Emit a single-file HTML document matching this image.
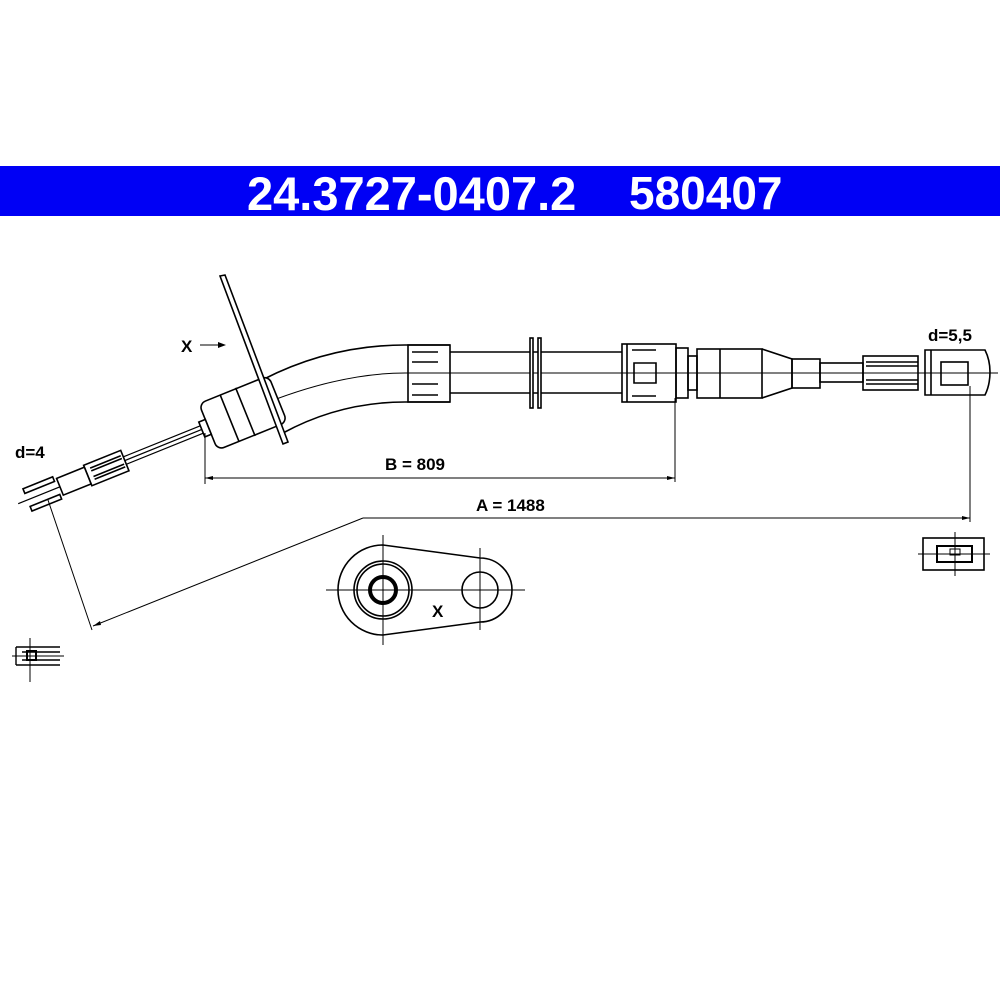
<!DOCTYPE html>
<html><head><style>
body{margin:0;background:#fff;}
.b{position:absolute;left:0;top:166px;width:1000px;height:50px;background:#0000f5;}
.t{position:absolute;top:166px;height:50px;line-height:50px;color:#fff;font:bold 47px "Liberation Sans",sans-serif;}
.l{position:absolute;font:bold 17px 'Liberation Sans',sans-serif;}
</style></head><body>
<div class="b"></div>
<div class="t" style="left:247px">24.3727-0407.2</div>
<div class="t" style="left:629px;font-size:46px">580407</div>
<svg width="1000" height="1000" style="position:absolute;left:0;top:0" fill="none" stroke="#000" stroke-width="1.6">
<!-- curved tube -->
<path d="M262,380 Q330,345 405,345 L450,345"/>
<path d="M283,433 Q340,402 405,402 L450,402"/>
<path d="M210,428 Q320,373 405,373 L998,373" stroke-width="1"/>
<!-- left cable assembly -->
<g transform="translate(250,410) rotate(-22)">
<rect x="-45" y="-25" width="75" height="50" rx="7" fill="#fff"/>
<path d="M-22,-25 V25 M-5,-26 V26"/>
<rect x="-52" y="-8" width="7" height="16" fill="#fff"/>
<path d="M-52,-4 H-135 M-52,4 H-135 M-52,0 H-250" stroke-width="1.2"/>
<rect x="-175" y="-11" width="40" height="22" fill="#fff"/>
<path d="M-170,-6 H-137 M-170,-3 H-137 M-170,3 H-137 M-170,6 H-137"/>
<rect x="-205" y="-9" width="30" height="18" fill="#fff"/>
<rect x="-240" y="-12" width="32" height="5" fill="#fff"/>
<rect x="-240" y="7" width="32" height="5" fill="#fff"/>
</g>
<!-- flange plate -->
<polygon points="220,276 225,275 288,442 283,444" fill="#fff"/>
<!-- ribbed sleeve -->
<rect x="408" y="345" width="42" height="57"/>
<path d="M412,352 h26 M412,362 h26 M412,384 h26 M412,395 h26"/>
<!-- tube -->
<path d="M450,352 H622 M450,393 H622"/>
<rect x="530" y="338" width="3" height="70" fill="#fff"/><rect x="538" y="338" width="3" height="70" fill="#fff"/>
<!-- collar -->
<rect x="622" y="344" width="54" height="58" fill="#fff"/>
<path d="M627,344 V402 M632,350 h24 M632,396 h24 M634,363 h22 v20 h-22z"/>
<rect x="676" y="348" width="12" height="50"/>
<rect x="688" y="356" width="9" height="34"/>
<rect x="697" y="349" width="65" height="49"/>
<path d="M720,349 V398 M762,349 L792,359 V388 L762,398"/>
<rect x="792" y="359" width="28" height="29"/>
<rect x="820" y="363" width="43" height="19"/>
<rect x="863" y="356" width="55" height="34"/>
<path d="M866,362 H918 M866,366 H918 M866,380 H918 M866,384 H918"/>
<path d="M925,350 H985 Q990,360 990,372 Q990,385 985,395 H925 Z" fill="#fff"/>
<path d="M931,350 V395"/><rect x="941" y="362" width="27" height="23"/>
<path d="M998,373 H610" stroke-width="1"/>
<!-- dimensions -->
<g stroke-width="1">
<path d="M205,433 V484 M205,478 H675 M675,398 V482"/>
<path d="M970,386 V522 M363,518 H970 M363,518 L93,626 M48,500 L92,630"/>
</g>
<g fill="#000" stroke="none">
<path d="M205,478 l8,-2 v4z M675,478 l-8,-2 v4z M970,518 l-8,-2 v4z M93,626 l7,-5 l1,4z M226,345 l-8,-3 v6z"/>
</g>
<path d="M200,345 H220" stroke-width="1"/>
<!-- right icon -->
<rect x="923" y="538" width="61" height="32"/>
<rect x="937" y="546" width="35" height="16" stroke-width="2"/>
<path d="M950,549 h10 v6 h-10z M955,532 V576 M918,554 H990" stroke-width="1"/>
<!-- left icon -->
<g stroke-width="1.4">
<path d="M16,647 H60 M16,665 H60 M22,652 H60 M22,660 H60 M16,647 V665"/>
<rect x="27" y="651" width="9" height="9" stroke-width="2"/>
<path d="M30,638 V682 M12,656 H64" stroke-width="1"/>
</g>
<!-- plate X -->
<path d="M383,545 L480,558 A32,32 0 0 1 480,622 L383,635 A45,45 0 0 1 383,545 Z"/>
<circle cx="383" cy="590" r="29"/><circle cx="383" cy="590" r="26"/>
<circle cx="383" cy="590" r="13" stroke-width="4"/>
<circle cx="480" cy="590" r="18"/>
<path d="M326,590 H525 M383,535 V645 M480,548 V630" stroke-width="1"/>
</svg>
<div class="l" style="left:181px;top:337px">X</div>
<div class="l" style="left:432px;top:602px">X</div>
<div class="l" style="left:15px;top:443px">d=4</div>
<div class="l" style="left:928px;top:326px">d=5,5</div>
<div class="l" style="left:385px;top:455px">B = 809</div>
<div class="l" style="left:476px;top:496px">A = 1488</div>
</body></html>
